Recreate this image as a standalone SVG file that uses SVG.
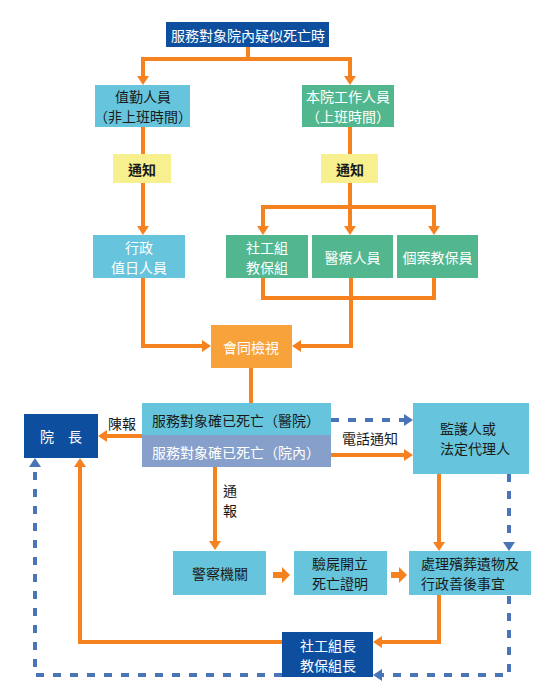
<svg xmlns="http://www.w3.org/2000/svg" width="552" height="696" viewBox="0 0 552 696">
<defs>
<marker id="ao" viewBox="0 0 9 12" refX="4" refY="6" markerWidth="9" markerHeight="12" markerUnits="userSpaceOnUse" orient="auto"><path d="M0,0 L9,6 L0,12 z" fill="#f5821f"/></marker>
<marker id="ab" viewBox="0 0 9 12" refX="4" refY="6" markerWidth="9" markerHeight="12" markerUnits="userSpaceOnUse" orient="auto"><path d="M0,0 L9,6 L0,12 z" fill="#4a74b8"/></marker>
</defs>
<style>
text{font-family:"Noto Sans CJK TC","Noto Sans CJK SC",sans-serif;font-size:14px;text-anchor:middle;dominant-baseline:central}
.w{fill:#ffffff}
.k{fill:#1a1a1a}
.b{font-weight:bold}
.l{text-anchor:start}
.dk{fill:#0d4f9e}
.lb{fill:#66c5dc}
.gr{fill:#52b78e}
.ye{fill:#f8ef8e}
.og{fill:#f8a23c}
.pu{fill:#879fcb}
.o{fill:none;stroke:#f5821f;stroke-width:4}
.d{fill:none;stroke:#4a74b8;stroke-width:4;stroke-dasharray:8 9}
</style>
<g id="connectors">
<path class="o" d="M248,47 V59 H143 V80" marker-end="url(#ao)"/>
<path class="o" d="M248,47 V59 H350 V80" marker-end="url(#ao)"/>
<path class="o" d="M143,127 V154"/>
<path class="o" d="M350,127 V154"/>
<path class="o" d="M143,183 V230" marker-end="url(#ao)"/>
<path class="o" d="M350,183 V230" marker-end="url(#ao)"/>
<path class="o" d="M350,207 H263 V230" marker-end="url(#ao)"/>
<path class="o" d="M350,207 H434 V230" marker-end="url(#ao)"/>
<path class="o" d="M143,278 V346 H206" marker-end="url(#ao)"/>
<path class="o" d="M263,278 V298 H434 V278"/>
<path class="o" d="M351,278 V346 H297" marker-end="url(#ao)"/>
<path class="o" d="M251,368 V403"/>
<path class="o" d="M142,436 H103" marker-end="url(#ao)"/>
<path class="o" d="M331,455 H408" marker-end="url(#ao)"/>
<path class="o" d="M215,467 V545" marker-end="url(#ao)"/>
<path class="o" d="M439,474 V546" marker-end="url(#ao)"/>
<path class="o" d="M439,594 V642 H378" marker-end="url(#ao)"/>
<path class="o" d="M282,642 H80 V463" marker-end="url(#ao)"/>
<polygon points="273,572 282,572 282,567 290,575 282,583 282,578 273,578" fill="#f5821f"/>
<polygon points="391,572 399,572 399,567 407,575 399,583 399,578 391,578" fill="#f5821f"/>
<path class="d" d="M331,420 H408" marker-end="url(#ab)"/>
<path class="d" d="M509,474 V546" marker-end="url(#ab)"/>
<path class="d" d="M509,596 V675 H378" marker-end="url(#ab)"/>
<path class="d" d="M282,675 H35 V463" marker-end="url(#ab)"/>
<text class="k" x="122" y="423">陳報</text>
<text class="k" x="370" y="438">電話通知</text>
<text class="k" x="230" y="490">通</text>
<text class="k" x="230" y="510">報</text>
</g>
<g id="n-top"><rect class="dk" x="166" y="22" width="163" height="25"/><text class="w" x="248" y="34.5">服務對象院內疑似死亡時</text></g>
<g id="n-duty"><rect class="lb" x="95" y="85" width="95" height="42"/><text class="k" x="143" y="96">值勤人員</text><text class="k" x="143" y="116">（非上班時間）</text></g>
<g id="n-staff"><rect class="gr" x="302" y="85" width="92" height="42"/><text class="w" x="348" y="96">本院工作人員</text><text class="w" x="348" y="116">（上班時間）</text></g>
<g id="n-notify1"><rect class="ye" x="113" y="154" width="58" height="29"/><text class="k b" x="142" y="168.5">通知</text></g>
<g id="n-notify2"><rect class="ye" x="321" y="154" width="57" height="29"/><text class="k b" x="350" y="168.5">通知</text></g>
<g id="n-admin"><rect class="lb" x="93" y="235" width="92" height="43"/><text class="w" x="139" y="246.5">行政</text><text class="w" x="139" y="266.5">值日人員</text></g>
<g id="n-social"><rect class="gr" x="226" y="235" width="82" height="43"/><text class="w" x="267" y="246.5">社工組</text><text class="w" x="267" y="266.5">教保組</text></g>
<g id="n-medical"><rect class="gr" x="312" y="235" width="81" height="43"/><text class="w" x="352.5" y="257">醫療人員</text></g>
<g id="n-case"><rect class="gr" x="397" y="235" width="81" height="43"/><text class="w" x="437.5" y="257">個案教保員</text></g>
<g id="n-inspect"><rect class="og" x="211" y="325" width="81" height="43"/><text class="w" x="251" y="347">會同檢視</text></g>
<g id="n-hosp"><rect class="lb" x="142" y="403" width="189" height="32"/><text class="k" x="236" y="420">服務對象確已死亡（醫院）</text></g>
<g id="n-inst"><rect class="pu" x="142" y="435" width="189" height="32"/><text class="w" x="236" y="452">服務對象確已死亡（院內）</text></g>
<g id="n-director"><rect class="dk" x="24" y="414" width="74" height="44"/><text class="w" x="61" y="436">院　長</text></g>
<g id="n-guardian"><rect class="lb" x="413" y="403" width="116" height="71"/><text class="k l" x="440" y="427.5">監護人或</text><text class="k l" x="440" y="447.5">法定代理人</text></g>
<g id="n-police"><rect class="lb" x="173" y="551" width="93" height="44"/><text class="k" x="220" y="573">警察機關</text></g>
<g id="n-cert"><rect class="lb" x="294" y="551" width="93" height="44"/><text class="k" x="340" y="563">驗屍開立</text><text class="k" x="340" y="583">死亡證明</text></g>
<g id="n-funeral"><rect class="lb" x="409" y="551" width="122" height="44"/><text class="k l" x="421" y="563">處理殯葬遺物及</text><text class="k l" x="421" y="583">行政善後事宜</text></g>
<g id="n-heads"><rect class="dk" x="282" y="632" width="91" height="45"/><text class="w" x="328" y="644.5">社工組長</text><text class="w" x="328" y="664.5">教保組長</text></g>
</svg>
